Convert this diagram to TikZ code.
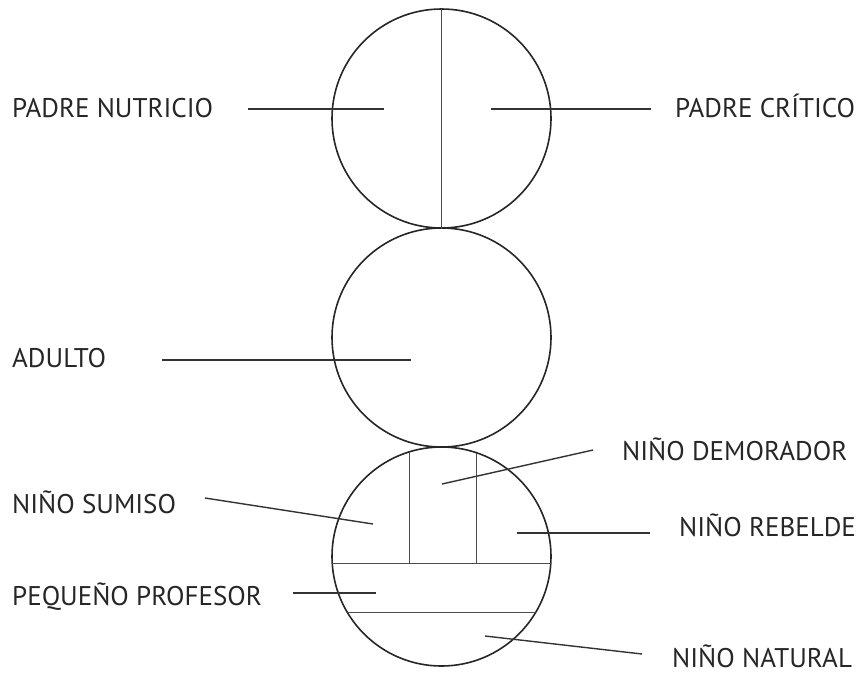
\documentclass[tikz,border=0pt]{standalone}
\usepackage{fontspec}
\setmainfont{PT Sans}
\begin{document}
\begin{tikzpicture}[x=1pt,y=-1pt,
  ring/.style={circle,draw=black!85,line width=1.6pt,minimum size=219pt,inner sep=0pt},
  part/.style={draw=black!70,line width=1.5pt},
  leader/.style={draw=black!80,line width=1.4pt},
  lbl/.style={anchor=base west,inner sep=0pt,font=\fontsize{27}{29}\selectfont,text=black!85}]
\useasboundingbox (0,0) rectangle (861,675);
% circles
\node[ring] (cp) at (441.5,118.5) {};
\node[ring] (ca) at (441.5,337.5) {};
\node[ring] (cn) at (441.5,556.5) {};
% top divider
\draw[part] (cp.north) -- (cp.south);
% bottom circle subdivisions
\coordinate (h1l) at (332.2,563.3);
\coordinate (h1r) at (550.8,563.3);
\coordinate (v1t) at (409.3,451.8);
\coordinate (v1b) at (409.3,563.3);
\coordinate (v2t) at (476.7,452.8);
\coordinate (v2b) at (476.7,563.3);
\coordinate (h2l) at (347.3,612.3);
\coordinate (h2r) at (535.7,612.3);
\draw[part] (h1l) -- (h1r);
\draw[part] (v1t) -- (v1b);
\draw[part] (v2t) -- (v2b);
\draw[part] (h2l) -- (h2r);
% labels
\node[lbl] (pn) at (12,117) {PADRE NUTRICIO};
\node[lbl] (pc) at (675,117) {PADRE CRÍTICO};
\node[lbl] (ad) at (12,367) {ADULTO};
\node[lbl] (nd) at (622,460) {NIÑO DEMORADOR};
\node[lbl] (ns) at (12,513) {NIÑO SUMISO};
\node[lbl] (nr) at (679,536) {NIÑO REBELDE};
\node[lbl] (pp) at (12,605) {PEQUEÑO PROFESOR};
\node[lbl] (nn) at (672,667) {NIÑO NATURAL};
% leader ends
\coordinate (pnA) at (248,109); \coordinate (pnB) at (384,109);
\coordinate (pcA) at (651,109); \coordinate (pcB) at (491,109);
\coordinate (adA) at (162,360); \coordinate (adB) at (411,360);
\coordinate (ndA) at (593,450); \coordinate (ndB) at (442,484);
\coordinate (nsA) at (205,498); \coordinate (nsB) at (373,524);
\coordinate (nrA) at (650,533); \coordinate (nrB) at (517,533);
\coordinate (ppA) at (293,593); \coordinate (ppB) at (376,593);
\coordinate (nnA) at (642,654); \coordinate (nnB) at (485,636);
\draw[leader] (pnA) -- (pnB);
\draw[leader] (pcA) -- (pcB);
\draw[leader] (adA) -- (adB);
\draw[leader] (ndA) -- (ndB);
\draw[leader] (nsA) -- (nsB);
\draw[leader] (nrA) -- (nrB);
\draw[leader] (ppA) -- (ppB);
\draw[leader] (nnA) -- (nnB);
\end{tikzpicture}
\end{document}
